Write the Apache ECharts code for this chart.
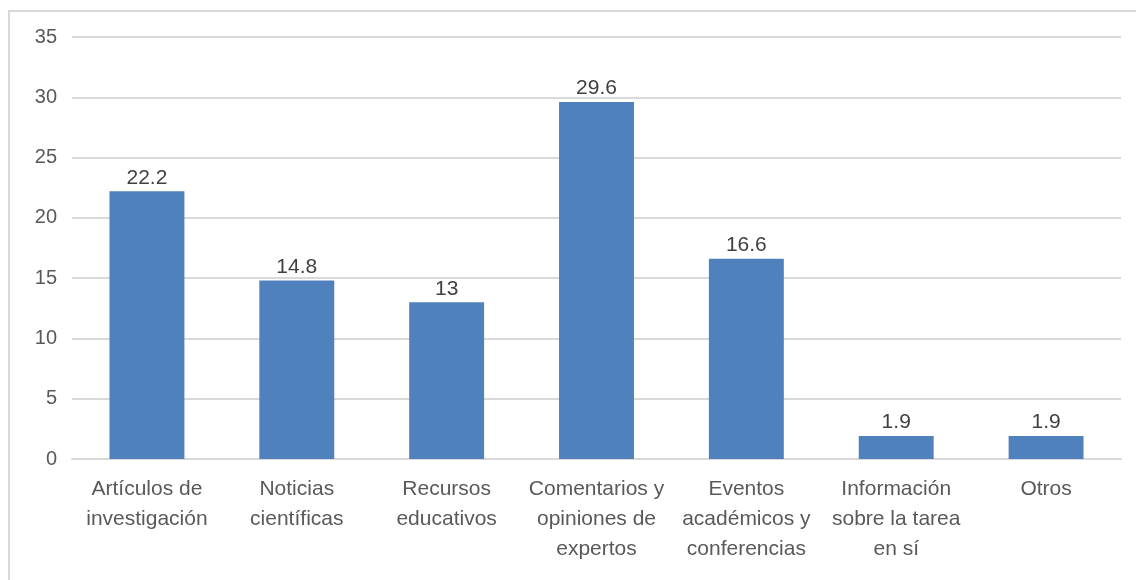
<!DOCTYPE html>
<html>
<head>
<meta charset="utf-8">
<script src="https://cdn.jsdelivr.net/npm/echarts@6/dist/echarts.min.js"></script>
<style>
  body { margin: 0; background: #fff; }
  #frame { position: absolute; left: 8px; top: 10px; width: 1200px; height: 700px;
           border-left: 2px solid #d9d9d9; border-top: 2px solid #d9d9d9; }
  #chart { position: absolute; left: 0; top: 0; width: 1136px; height: 580px; }
</style>
</head>
<body>
<div id="frame"></div>
<div id="chart"></div>
<script>
// categories (line breaks as shown under the axis)
var categories = [
  'Artículos de\ninvestigación',
  'Noticias\ncientíficas',
  'Recursos\neducativos',
  'Comentarios y\nopiniones de\nexpertos',
  'Eventos\nacadémicos y\nconferencias',
  'Información\nsobre la tarea\nen sí',
  'Otros'
]
var values = [22.2, 14.8, 13, 29.6, 16.6, 1.9, 1.9]

var font = 'Liberation Sans'

var chart = echarts.init(document.getElementById('chart'))
chart.setOption({
  animation: false,
  grid: {
    left: 72,
    right: 15,
    top: 37,
    bottom: 121
  },
  xAxis: {
    type: 'category',
    data: categories,
    axisTick: { show: false },
    axisLine: { lineStyle: { color: '#d9d9d9', width: 2 } },
    axisLabel: {
      interval: 0,
      margin: 15,
      color: '#595959',
      fontFamily: font,
      fontSize: 21,
      lineHeight: 30
    }
  },
  yAxis: {
    type: 'value',
    min: 0,
    max: 35,
    interval: 5,
    axisLine: { show: false },
    axisTick: { show: false },
    splitLine: { lineStyle: { color: '#d9d9d9', width: 2 } },
    axisLabel: {
      margin: 15,
      color: '#595959',
      fontFamily: font,
      fontSize: 20
    }
  },
  series: [
    {
      type: 'bar',
      data: values,
      barWidth: '50%',
      itemStyle: { color: '#4f81bd' },
      label: {
        show: true,
        position: 'top',
        distance: 3,
        color: '#404040',
        fontFamily: font,
        fontSize: 21
      }
    }
  ]
})
</script>
</body>
</html>
